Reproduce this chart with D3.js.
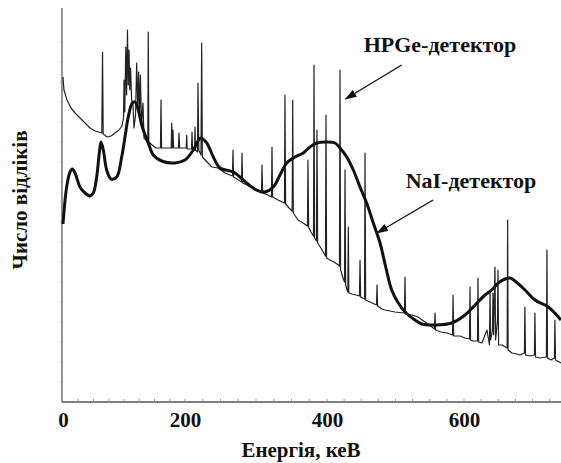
<!DOCTYPE html>
<html>
<head>
<meta charset="utf-8">
<script src="https://cdn.jsdelivr.net/npm/d3@7"></script>
<style>
  html, body { margin: 0; padding: 0; background: #fff; }
  svg { display: block; }
</style>
</head>
<body>
<div id="chart"></div>
<script>
// Gamma spectrum: HPGe vs NaI detector. Energies in keV, counts in
// arbitrary units (the original has no y tick labels).

const xTicks = [0, 200, 400, 600];
const eMax = 741.6;

// NaI: smooth, thick curve [keV, counts]
const naiSpectrum = [
  [0, 178], [6, 215], [11.5, 230], [15.2, 233], [19.7, 229], [27.9, 215],
  [36.1, 209], [44.3, 206], [49.7, 209], [55.2, 225], [59.5, 249], [62.3, 260],
  [66.1, 252], [71.6, 232], [78.7, 223], [88, 225], [96.2, 245], [101.6, 265],
  [107, 285], [113.6, 299], [118, 300], [123.4, 292], [130, 275], [139.8, 259],
  [148, 247], [161.8, 241], [183.6, 239], [200, 242], [211.7, 252], [222.1, 264],
  [230.6, 259], [239.9, 245], [249.3, 234], [268, 230], [286.9, 219], [301, 212],
  [312.7, 210], [324.4, 215], [333.8, 227], [343.2, 239], [354.9, 245], [366.6, 249],
  [376, 255], [385.5, 259], [399.6, 260], [411.7, 259], [419, 254], [428.8, 245],
  [438.4, 232], [448.2, 215], [457.9, 199], [467.6, 179], [477.4, 159], [486.1, 134],
  [494.4, 112], [504.1, 99], [513.9, 90], [528.5, 82], [538.3, 78], [557.7, 77],
  [582.1, 79], [601.5, 87], [616.1, 97], [630.7, 107], [640.5, 112], [650.1, 119],
  [659.9, 123], [667.2, 124], [674.5, 121], [689.1, 112], [703.7, 102], [723.1, 95],
  [741.6, 82]
];

// HPGe: continuum with narrow lines [keV, counts]
const hpgeSpectrum = [
  [0, 325], [1.6, 312], [6.6, 302], [13.1, 294], [19.7, 289], [27.9, 284],
  [36.1, 279], [44.3, 274], [52.5, 271], [63.6, 269], [64.8, 350], [65.9, 268],
  [72.1, 265], [78.7, 266], [85.2, 269], [91.8, 272], [96.7, 276], [99.2, 284],
  [100, 322], [101.3, 290], [102.9, 355], [104.3, 307], [105.7, 372], [107, 317],
  [108.2, 352], [109.5, 312], [110.8, 334], [112.5, 302], [114.8, 297], [116.4, 274],
  [118.9, 287], [120.8, 339], [122.6, 292], [123.9, 330], [125.6, 287], [126.9, 327],
  [128.7, 277], [131.1, 299], [132.8, 264], [136.1, 262], [139, 260], [139.8, 370],
  [140.7, 260], [145.9, 257], [152.5, 254], [159.8, 254], [160.7, 302], [161.6, 254],
  [168.9, 254], [177.4, 254], [178.2, 279], [179.2, 254], [180.3, 272], [181.3, 254],
  [189.3, 254], [190.2, 269], [191.2, 254], [196.7, 254], [201.7, 254], [202.4, 267],
  [203.1, 253], [209.2, 253], [209.9, 270], [210.7, 252], [213.4, 252], [214.1, 275],
  [214.9, 252], [217.6, 250], [218.3, 319], [219.4, 252], [222.5, 247], [223.5, 359],
  [224.5, 245], [231, 240], [238, 235], [246.5, 234], [256.3, 229], [266.9, 226],
  [267.6, 252], [268.4, 225], [279.6, 220], [280.3, 249], [281.1, 219], [287.3, 217],
  [298.6, 212], [307.7, 209], [308.5, 237], [309.3, 209], [316.9, 207], [321.8, 205],
  [322.5, 255], [323.4, 205], [331, 202], [340.1, 199], [340.8, 307], [341.7, 198],
  [346.5, 194], [351, 191], [351.7, 302], [352.5, 189], [359.2, 182], [366.2, 179],
  [372.5, 176], [373.2, 242], [374.1, 175], [377.5, 170], [381, 166], [381.7, 337],
  [382.5, 164], [385.2, 161], [385.9, 272], [386.8, 159], [391.5, 154], [397.9, 146],
  [398.6, 287], [399.4, 144], [404.4, 142], [410.2, 140], [414.6, 138], [418.2, 136],
  [419, 332], [419.8, 132], [423.4, 124], [425.6, 120], [426.3, 232], [427.2, 117],
  [429.2, 112], [430.4, 110], [431.1, 175], [431.9, 109], [436.6, 108], [442.3, 107],
  [447.4, 106], [448.2, 142], [449.1, 105], [454.8, 103], [455.5, 249], [456.4, 102],
  [462.8, 100], [472.3, 97], [473, 117], [473.9, 96], [480.3, 93], [484.7, 92],
  [499.3, 90], [513.1, 89], [513.9, 125], [514.7, 88], [524.1, 87], [532.8, 85],
  [543.1, 80], [553.3, 75], [556.9, 73], [557.7, 89], [558.6, 72], [566.5, 70],
  [575.2, 69], [583.3, 67], [584, 107], [584.9, 66], [594.2, 66], [601.5, 64],
  [608, 63], [608.8, 115], [609.6, 62], [613.1, 61], [619.7, 61], [620.4, 124],
  [621.3, 60], [626.2, 59], [633.5, 72], [637.2, 57], [638, 112], [638.8, 62],
  [641.6, 72], [642.3, 109], [643.2, 67], [645.2, 135], [646.1, 62], [648.9, 82],
  [649.6, 132], [650.5, 57], [655.4, 57], [663, 54], [663.7, 182], [664.4, 52],
  [670, 49], [677.3, 48], [681.6, 47], [688.2, 49], [688.9, 95], [689.8, 47],
  [696.2, 46], [702.8, 47], [703.5, 89], [704.4, 45], [710.8, 44], [720.3, 45],
  [721.1, 152], [721.9, 44], [726.8, 42], [732, 44], [732.7, 82], [733.6, 42],
  [741.6, 39]
];

const width = 561;
const height = 463;
const serif = "'Liberation Serif', 'Times New Roman', serif";

// the printed tick labels are not evenly spaced, so the scale is piecewise
const x = d3.scaleLinear().domain(xTicks).range([63, 185, 327, 464]);
const y = d3.scaleLinear().domain([0, 394]).range([402, 8]);

const svg = d3.select("#chart").append("svg")
  .attr("width", width)
  .attr("height", height)
  .attr("viewBox", `0 0 ${width} ${height}`);

svg.append("defs").append("marker")
  .attr("id", "arrow")
  .attr("viewBox", "0 0 12 8")
  .attr("markerUnits", "userSpaceOnUse")
  .attr("markerWidth", 12)
  .attr("markerHeight", 8)
  .attr("refX", 11)
  .attr("refY", 4)
  .attr("orient", "auto")
  .append("path")
  .attr("d", "M0,0 L12,4 L0,8 Z")
  .attr("fill", "#111");

// axes
const x0 = x(0) - 1;
svg.append("line")
  .attr("x1", x0).attr("x2", x(eMax))
  .attr("y1", y(0)).attr("y2", y(0))
  .attr("stroke", "#555").attr("stroke-width", 1.6);
svg.append("line")
  .attr("x1", x0).attr("x2", x0)
  .attr("y1", y(0)).attr("y2", y(394))
  .attr("stroke", "#777").attr("stroke-width", 1.6);

// small minor ticks like the scan
svg.append("g")
  .selectAll("line")
  .data(d3.range(25, eMax, 25))
  .join("line")
  .attr("x1", (d) => x(d)).attr("x2", (d) => x(d))
  .attr("y1", y(0)).attr("y2", y(0) - 3)
  .attr("stroke", "#999").attr("stroke-width", 1);
svg.append("g")
  .selectAll("line")
  .data(d3.range(20, 380, 20))
  .join("line")
  .attr("x1", x0 - 2).attr("x2", x0)
  .attr("y1", (d) => y(d)).attr("y2", (d) => y(d))
  .attr("stroke", "#aaa").attr("stroke-width", 1);

const xAxis = svg.append("g")
  .attr("transform", `translate(0,${y(0)})`)
  .call(d3.axisBottom(x).tickValues(xTicks).tickSize(0).tickPadding(10).tickFormat(d3.format("d")));
xAxis.select(".domain").remove();
xAxis.selectAll("text")
  .attr("font-family", serif)
  .attr("font-weight", "bold")
  .attr("font-size", 21)
  .attr("fill", "#111");

// spectra
const hpgeLine = d3.line()
  .x((d) => x(d[0]))
  .y((d) => y(d[1]));
svg.append("path")
  .datum(hpgeSpectrum)
  .attr("d", hpgeLine)
  .attr("fill", "none")
  .attr("stroke", "#222")
  .attr("stroke-width", 1.2)
  .attr("stroke-linejoin", "round");

const naiLine = d3.line()
  .x((d) => x(d[0]))
  .y((d) => y(d[1]))
  .curve(d3.curveCatmullRom.alpha(0.5));
svg.append("path")
  .datum(naiSpectrum)
  .attr("d", naiLine)
  .attr("fill", "none")
  .attr("stroke", "#111")
  .attr("stroke-width", 3)
  .attr("stroke-linejoin", "round");

// labels with arrows (anchored in data units)
const notes = [
  { text: "HPGe-детектор", at: [440, 52], from: [509, 337], to: [427, 303] },
  { text: "NaI-детектор", at: [471, 188], from: [555, 202], to: [473, 169] }
];
notes.forEach((n) => {
  svg.append("line")
    .attr("x1", x(n.from[0])).attr("y1", y(n.from[1]))
    .attr("x2", x(n.to[0])).attr("y2", y(n.to[1]))
    .attr("stroke", "#111").attr("stroke-width", 1.4)
    .attr("marker-end", "url(#arrow)");
  svg.append("text")
    .attr("x", n.at[0]).attr("y", n.at[1])
    .attr("text-anchor", "middle")
    .attr("font-family", serif)
    .attr("font-weight", "bold")
    .attr("font-size", 22)
    .attr("fill", "#111")
    .text(n.text);
});

// axis titles
svg.append("text")
  .attr("x", 301).attr("y", 457)
  .attr("text-anchor", "middle")
  .attr("font-family", serif)
  .attr("font-weight", "bold")
  .attr("font-size", 21)
  .attr("fill", "#111")
  .text("Енергія, кеВ");
svg.append("text")
  .attr("transform", "translate(27,200) rotate(-90)")
  .attr("text-anchor", "middle")
  .attr("font-family", serif)
  .attr("font-weight", "bold")
  .attr("font-size", 21)
  .attr("fill", "#111")
  .text("Число відліків");
</script>
</body>
</html>
